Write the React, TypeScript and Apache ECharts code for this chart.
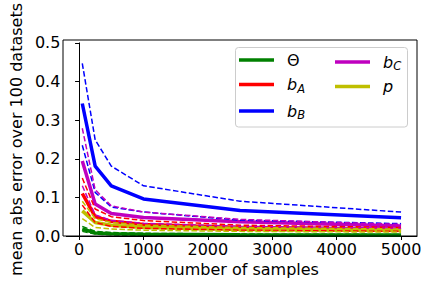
import React, { useEffect, useRef } from "react";
import * as echarts from "echarts";

const samples = [50, 250, 500, 1000, 2500, 5000];
const names = ["Θ", "b_A", "b_B", "b_C", "p"];
const colors = ["#008000", "#ff0000", "#0000ff", "#bf00bf", "#bfbf00"];

const thetaMean = [0.018, 0.008, 0.006, 0.0045, 0.003, 0.0025];
const thetaHi = [0.025, 0.012, 0.009, 0.007, 0.005, 0.004];
const thetaLo = [0.012, 0.005, 0.003, 0.002, 0.0015, 0.001];

const bAMean = [0.11, 0.05, 0.038, 0.03, 0.022, 0.017];
const bAHi = [0.15, 0.07, 0.05, 0.04, 0.028, 0.022];
const bALo = [0.08, 0.035, 0.025, 0.02, 0.015, 0.012];

const bBMean = [0.343, 0.181, 0.13, 0.096, 0.066, 0.047];
const bBHi = [0.447, 0.249, 0.181, 0.13, 0.09, 0.062];
const bBLo = [0.235, 0.113, 0.075, 0.062, 0.041, 0.032];

const bCMean = [0.194, 0.083, 0.058, 0.048, 0.037, 0.026];
const bCHi = [0.279, 0.12, 0.078, 0.062, 0.043, 0.03];
const bCLo = [0.13, 0.055, 0.04, 0.033, 0.025, 0.02];

const pMean = [0.065, 0.035, 0.028, 0.022, 0.017, 0.014];
const pHi = [0.09, 0.045, 0.035, 0.028, 0.022, 0.018];
const pLo = [0.045, 0.022, 0.018, 0.015, 0.012, 0.01];

const xTicks = [0, 1000, 2000, 3000, 4000, 5000];

const groups = [
  [thetaMean, thetaHi, thetaLo],
  [bAMean, bAHi, bALo],
  [bBMean, bBHi, bBLo],
  [bCMean, bCHi, bCLo],
  [pMean, pHi, pLo],
];

const FONT = "DejaVu Sans";
const FS = 16;

function legendFmt(name: string) {
  if (name.startsWith("b_")) return "{i|b}{s|" + name.slice(2) + "}";
  if (name === "p") return "{i|p}";
  return "{n|" + name + "}";
}

const rich = {
  n: { fontFamily: FONT, fontSize: FS, color: "#000", lineHeight: 20 },
  i: { fontFamily: FONT, fontSize: FS, fontStyle: "italic", color: "#000", lineHeight: 20 },
  s: { fontFamily: FONT, fontSize: 11.5, fontStyle: "italic", color: "#000", padding: [8, 0, 0, 0], lineHeight: 20 },
};

export default function App() {
  const ref = useRef<HTMLDivElement>(null);
  useEffect(() => {
    if (!ref.current) return;
    const chart = echarts.init(ref.current, null, { renderer: "svg" });
    const series: any[] = [];
    groups.forEach((g, k) => {
      series.push({
        name: names[k],
        type: "line",
        data: samples.map((x, i) => [x, g[0][i]]),
        showSymbol: false,
        symbol: "none",
        lineStyle: { color: colors[k], width: 3.5 },
        itemStyle: { color: colors[k] },
        z: 2,
      });
      [1, 2].forEach((j) => {
        series.push({
          name: names[k] + "_" + j,
          type: "line",
          data: samples.map((x, i) => [x, g[j][i]]),
          showSymbol: false,
          symbol: "none",
          lineStyle: { color: colors[k], width: 1.5, type: [5.5, 2.5] },
          itemStyle: { color: colors[k] },
          z: 3,
        });
      });
    });
    const legendCommon = {
      orient: "vertical",
      icon: "rect",
      padding: 0,
      itemWidth: 35,
      itemHeight: 3.5,
      itemGap: 6.5,
      selectedMode: false,
      formatter: legendFmt,
      textStyle: { rich, fontFamily: FONT, fontSize: FS, color: "#000", padding: [0, 0, 0, 8] },
    };
    chart.setOption({
      animation: false,
      backgroundColor: "#fff",
      textStyle: { fontFamily: FONT },
      grid: { left: 63, right: 15, top: 40, bottom: 52 },
      graphic: [
        {
          type: "rect",
          shape: { x: 63, y: 40, width: 354, height: 196 },
          style: { fill: "none", stroke: "#000", lineWidth: 1 },
          z: 50,
          silent: true,
        },
        {
          type: "rect",
          shape: { x: 235.5, y: 47.5, width: 172, height: 79.5, r: 3 },
          style: { fill: "rgba(255,255,255,0.8)", stroke: "#cccccc", lineWidth: 1 },
          z: 90,
        },
      ],
      legend: [
        { ...legendCommon, data: names.slice(0, 3), left: 239, top: 52, z: 100 },
        { ...legendCommon, data: names.slice(3), left: 335, top: 52, z: 100 },
      ],
      xAxis: {
        type: "value",
        min: -197.5,
        max: 5247.5,
        name: "number of samples",
        nameLocation: "middle",
        nameGap: 24,
        nameTextStyle: { fontFamily: FONT, fontSize: FS, color: "#000" },
        axisLine: { show: true, lineStyle: { color: "#000" } },
        axisTick: { show: true, length: 4, lineStyle: { color: "#000" }, customValues: xTicks },
        axisLabel: {
          fontFamily: FONT,
          fontSize: FS,
          color: "#000",
          margin: 5,
          customValues: xTicks,
          formatter: (v: number) => String(v),
        },
        splitLine: { show: false },
      },
      yAxis: {
        type: "value",
        min: 0,
        max: 0.5,
        interval: 0.1,
        name: "mean abs error over 100 datasets",
        nameLocation: "middle",
        nameGap: 36,
        nameTextStyle: { fontFamily: FONT, fontSize: FS, color: "#000" },
        axisLine: { show: true, lineStyle: { color: "#000" } },
        axisTick: { show: true, length: 4, lineStyle: { color: "#000" } },
        axisLabel: {
          fontFamily: FONT,
          fontSize: FS,
          color: "#000",
          margin: 6,
          formatter: (v: number) => v.toFixed(1),
        },
        splitLine: { show: false },
      },
      series,
    });
    return () => chart.dispose();
  }, []);
  return <div ref={ref} style={{ width: 432, height: 288, position: "absolute", left: 0, top: 0 }} />;
}
